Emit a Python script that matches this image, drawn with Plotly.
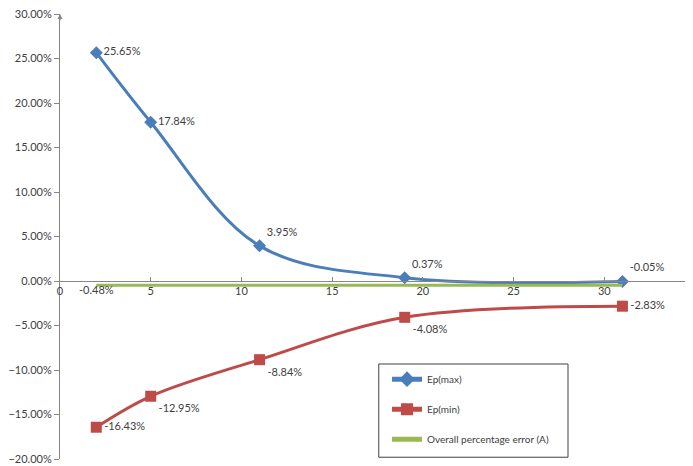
import plotly.graph_objects as go

# thickness values (x) and errors in percent
x_vals = [2, 5, 11, 19, 31]
ep_max = [25.65, 17.84, 3.95, 0.37, -0.05]
ep_min = [-16.43, -12.95, -8.84, -4.08, -2.83]
overall = [-0.48, -0.48, -0.48, -0.48, -0.48]

BLUE = "#4A7EBB"
RED = "#BE4B48"
GREEN = "#98B954"
AXIS = "#868686"
TXT = "#404040"
FONT = "Lato, 'Open Sans', sans-serif"


def pct(vals):
    return [v / 100 for v in vals]


def labels(vals):
    return [f"{v:.2f}%" for v in vals]


fig = go.Figure()

fig.add_trace(go.Scatter(
    x=x_vals, y=pct(ep_max), name="Ep(max)", legendgroup="a",
    mode="lines+markers+text",
    line=dict(color=BLUE, width=3, shape="spline", smoothing=1),
    marker=dict(symbol="diamond", size=10, color=BLUE),
    text=labels(ep_max),
    textposition=["middle right", "middle right", "top right", "top right", "top right"],
    textfont=dict(family=FONT, size=11, color=TXT),
))
fig.add_trace(go.Scatter(
    x=x_vals, y=pct(ep_min), name="Ep(min)", legendgroup="b",
    mode="lines+markers+text",
    line=dict(color=RED, width=3, shape="spline", smoothing=1),
    marker=dict(symbol="square", size=11, color=RED),
    text=labels(ep_min),
    textposition=["middle right", "bottom right", "bottom right", "bottom right", "middle right"],
    textfont=dict(family=FONT, size=11, color=TXT),
))
fig.add_trace(go.Scatter(
    x=x_vals, y=pct(overall), name="Overall percentage error (A)", legendgroup="c",
    mode="lines+text",
    line=dict(color=GREEN, width=3),
    text=[labels(overall)[0]] + [""] * (len(overall) - 1),
    textposition="bottom center",
    textfont=dict(family=FONT, size=11, color=TXT),
))

# page body adds an 8px offset, margins compensate for it
fig.update_layout(
    width=693, height=466,
    margin=dict(l=52, r=6, t=6, b=15, autoexpand=False),
    paper_bgcolor="white", plot_bgcolor="white",
    font=dict(family=FONT, size=11, color=TXT),
    showlegend=True,
    legend=dict(
        x=0.515, y=0.212, xanchor="left", yanchor="top",
        bgcolor="rgba(0,0,0,0)", borderwidth=0,
        font=dict(family=FONT, size=10, color=TXT),
        tracegroupgap=11, itemwidth=30, itemsizing="constant",
    ),
    xaxis=dict(
        range=[0, 35], dtick=5, tick0=0,
        showgrid=False, zeroline=False, automargin=False,
        showline=True, linecolor=AXIS, linewidth=1,
        ticks="inside", ticklen=4, tickcolor=AXIS,
        anchor="free", position=0.4, ticklabeloverflow="allow",
        tickfont=dict(family=FONT, size=11, color=TXT),
    ),
    yaxis=dict(
        range=[-0.20, 0.30], dtick=0.05, tickformat=".2%",
        showgrid=False, zeroline=False, automargin=False,
        showline=True, linecolor=AXIS, linewidth=1,
        ticks="outside", ticklen=5, tickcolor=AXIS,
        ticklabeloverflow="allow",
        tickfont=dict(family=FONT, size=11, color=TXT),
    ),
    shapes=[dict(
        type="rect", xref="paper", yref="paper",
        x0=0.502, x1=0.8, y0=0.004, y1=0.2135,
        line=dict(color="#404040", width=1), fillcolor="rgba(0,0,0,0)",
    )],
    annotations=[dict(
        x=0, y=0.30, xref="x", yref="y", ax=0, ay=8,
        showarrow=True, arrowhead=2, arrowsize=1, arrowwidth=1, arrowcolor=AXIS, text="",
    )],
)

fig.write_html("out.html")
